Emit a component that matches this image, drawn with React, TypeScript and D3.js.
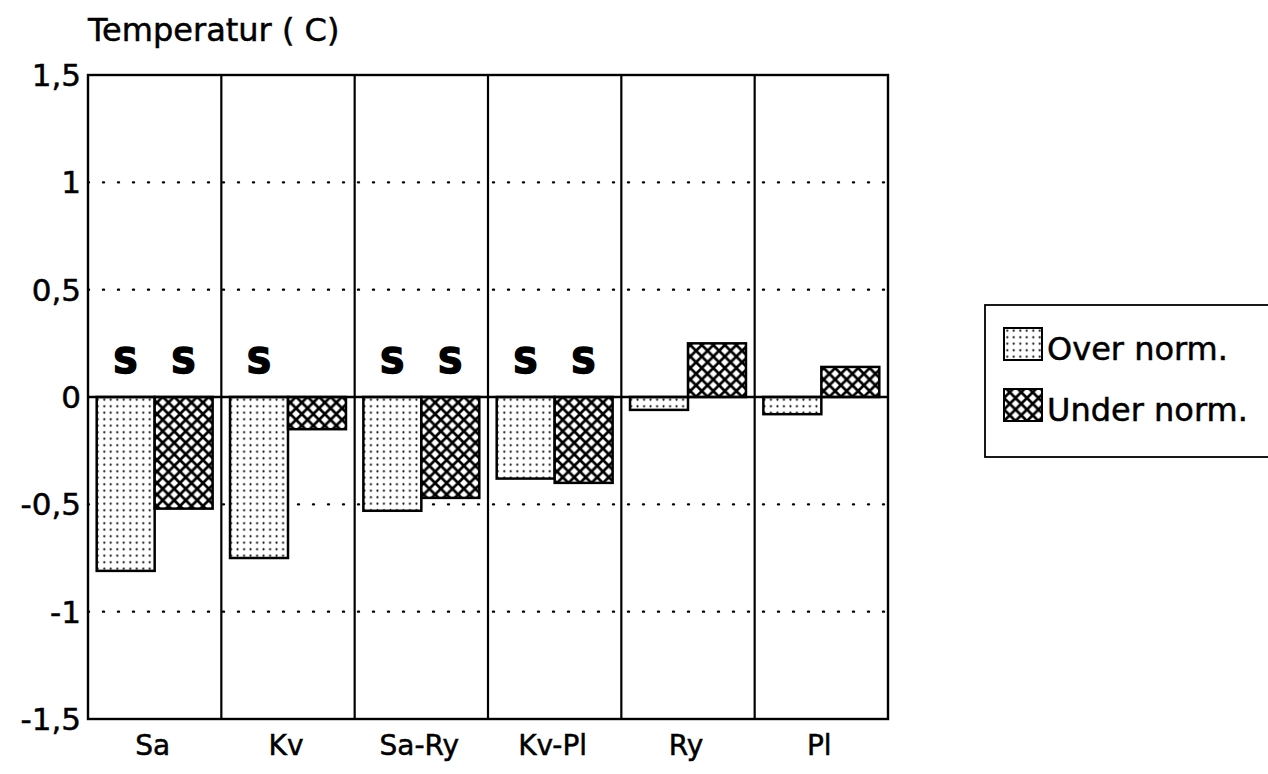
import React from 'react';
import * as d3 from 'd3';

const categories = ['Sa', 'Kv', 'Sa-Ry', 'Kv-Pl', 'Ry', 'Pl'];
const overNorm = [-0.81, -0.75, -0.53, -0.38, -0.06, -0.08];
const underNorm = [-0.52, -0.15, -0.47, -0.4, 0.25, 0.14];
const overSignificant = [true, true, true, true, false, false];
const underSignificant = [true, false, true, true, false, false];
const yTicks = [1.5, 1, 0.5, 0, -0.5, -1, -1.5];
const gridValues = [1, 0.5, -0.5, -1];
const seriesKeys = ['over', 'under'];
const legendLabels = ['Over norm.', 'Under norm.'];

const W = 1268;
const H = 774;
const margin = { left: 88, top: 75, right: 380, bottom: 55 };
const FONT = "'DejaVu Sans', 'Liberation Sans', Arial, sans-serif";

const locale = d3.formatLocale({
  decimal: ',',
  thousands: '.',
  grouping: [3],
  currency: ['', ''],
  minus: '-',
});
const fmt = locale.format('');

// scanned text looks heavy, so give it a thin outline
const textStyle = { fontFamily: FONT, fill: '#000', stroke: '#000', strokeWidth: 0.5 };

const App: React.FC = () => {
  const x0 = d3.scaleBand<string>()
    .domain(categories)
    .range([margin.left, W - margin.right])
    .paddingInner(0)
    .paddingOuter(0);

  const x1 = d3.scaleBand<string>()
    .domain(seriesKeys)
    .range([0, x0.bandwidth()])
    .paddingInner(0)
    .paddingOuter(0.15);

  const y = d3.scaleLinear()
    .domain([-1.5, 1.5])
    .range([H - margin.bottom, margin.top]);

  const rows = categories.map((c, i) => ({
    cat: c,
    over: overNorm[i],
    under: underNorm[i],
    sigOver: overSignificant[i],
    sigUnder: underSignificant[i],
  }));

  const plotL = x0.range()[0];
  const plotR = x0.range()[1];
  const zeroY = y(0);

  return (
    <svg width={W} height={H} style={{ display: 'block', position: 'absolute', left: 0, top: 0, background: '#fff' }}>
      <defs>
        <pattern id="dots" patternUnits="userSpaceOnUse" width={6.5} height={6.5}>
          <rect width={6.5} height={6.5} fill="#fff" />
          <circle cx={3.25} cy={3.25} r={1.05} fill="#000" />
        </pattern>
        <pattern id="hatch" patternUnits="userSpaceOnUse" width={11.5} height={11.5}>
          <rect width={11.5} height={11.5} fill="#fff" />
          <path d="M0,0 L11.5,11.5 M11.5,0 L0,11.5" stroke="#000" strokeWidth={2.7} />
          <path d="M-1,-1 L1,1 M10.5,12.5 L12.5,10.5 M-1,12.5 L1,10.5 M10.5,-1 L12.5,1" stroke="#000" strokeWidth={2.7} />
        </pattern>
      </defs>

      {/* title */}
      <text x={plotL} y={41} fontSize={32} style={textStyle}>Temperatur ( C)</text>

      {/* dotted gridlines */}
      {gridValues.map(v => (
        <line key={v} x1={plotL} x2={plotR} y1={y(v)} y2={y(v)}
          stroke="#000" strokeWidth={2.4} strokeDasharray="1 14" strokeLinecap="round" />
      ))}

      {/* bars */}
      {rows.map(r => (
        <g key={r.cat} transform={`translate(${x0(r.cat)},0)`}>
          {seriesKeys.map(k => {
            const v = k === 'over' ? r.over : r.under;
            const yTop = Math.min(y(v), zeroY);
            const h = Math.abs(y(v) - zeroY);
            return (
              <rect key={k} x={x1(k)} y={yTop} width={x1.bandwidth()} height={h}
                fill={k === 'over' ? 'url(#dots)' : 'url(#hatch)'} stroke="#000" strokeWidth={2.5} />
            );
          })}
          {seriesKeys.map(k => {
            const sig = k === 'over' ? r.sigOver : r.sigUnder;
            if (!sig) return null;
            return (
              <text key={'s' + k} x={(x1(k) as number) + x1.bandwidth() / 2} y={zeroY - 24}
                textAnchor="middle" fontFamily={FONT} fontWeight="bold" fontSize={35}
                fill="#000" stroke="#000" strokeWidth={1.6}>S</text>
            );
          })}
        </g>
      ))}

      {/* zero line */}
      <line x1={plotL} x2={plotR} y1={zeroY} y2={zeroY} stroke="#000" strokeWidth={2.4} />

      {/* category separators */}
      {categories.slice(1).map(c => (
        <line key={c} x1={x0(c)} x2={x0(c)} y1={y(1.5)} y2={y(-1.5)} stroke="#000" strokeWidth={2.2} />
      ))}

      {/* frame */}
      <rect x={plotL} y={y(1.5)} width={plotR - plotL} height={y(-1.5) - y(1.5)}
        fill="none" stroke="#000" strokeWidth={2.4} />

      {/* y tick labels */}
      {yTicks.map(t => (
        <text key={t} x={plotL - 7} y={y(t)} dy="0.36em" textAnchor="end"
          fontSize={31} style={textStyle}>{fmt(t)}</text>
      ))}

      {/* category labels */}
      {categories.map(c => (
        <text key={c} x={(x0(c) as number) + x0.bandwidth() / 2 - 2} y={H - 19} textAnchor="middle"
          fontSize={28} style={textStyle}>{c}</text>
      ))}

      {/* legend */}
      <g>
        <rect x={985} y={305} width={290} height={152} fill="#fff" stroke="#000" strokeWidth={1.8} />
        {legendLabels.map((lab, i) => (
          <g key={lab} transform={`translate(1004,${360 + i * 61})`}>
            <rect x={0} y={-32} width={38} height={32} fill={i === 0 ? 'url(#dots)' : 'url(#hatch)'}
              stroke="#000" strokeWidth={2} />
            <text x={43} y={0} fontSize={32} style={textStyle}>{lab}</text>
          </g>
        ))}
      </g>
    </svg>
  );
};

export default App;
